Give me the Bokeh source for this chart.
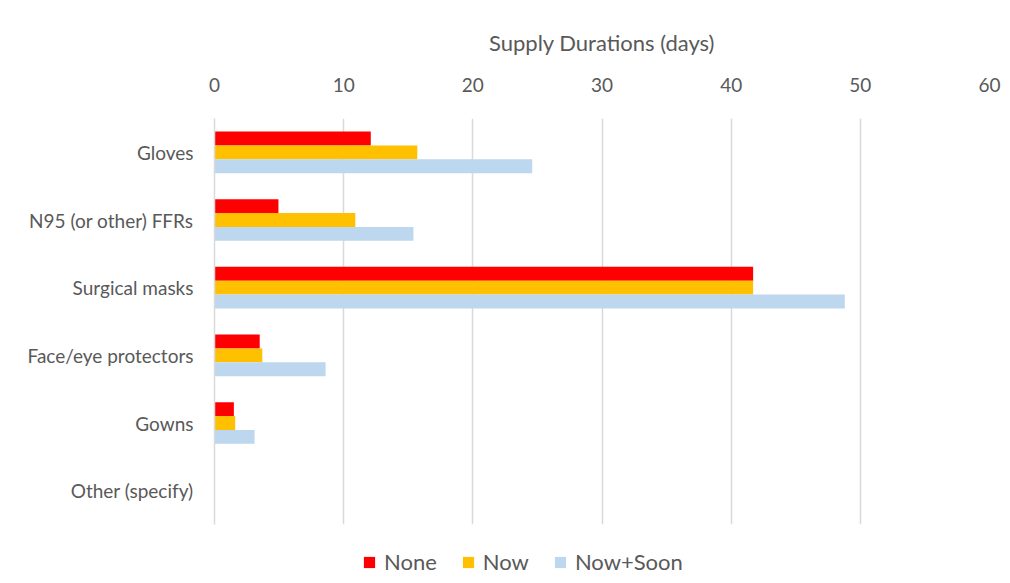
from bokeh.plotting import figure
from bokeh.models import Range1d, FactorRange, Legend, LegendItem, ColumnDataSource, FixedTicker
from bokeh.layouts import column
from bokeh.transform import dodge
from bokeh.embed import file_html
from bokeh.resources import INLINE

categories = ["Gloves", "N95 (or other) FFRs", "Surgical masks", "Face/eye protectors", "Gowns", "Other (specify)"]
none_vals = [12.1, 4.95, 41.7, 3.5, 1.5, 0]
now_vals = [15.7, 10.9, 41.7, 3.7, 1.6, 0]
now_soon_vals = [24.6, 15.4, 48.8, 8.6, 3.1, 0]
series_names = ["None", "Now", "Now+Soon"]
series_colors = ["#FF0000", "#FFC000", "#BDD7EE"]
x_ticks = [0, 10, 20, 30, 40, 50, 60]

FONT = "Lato"
TXT = "#595959"

src = ColumnDataSource(dict(cat=categories, none=none_vals, now=now_vals, soon=now_soon_vals))

p = figure(frame_width=775, frame_height=406, output_backend="svg", toolbar_location=None,
           x_range=Range1d(0, 60), y_range=FactorRange(*categories[::-1]),
           x_axis_location="above", min_border_left=214, min_border_right=19,
           min_border_top=118, min_border_bottom=4)
p.outline_line_color = None

bw = 0.205
cols = ["none", "now", "soon"]
offsets = [bw, 0, -bw]
for c, off, col in zip(cols, offsets, series_colors):
    p.hbar(y=dodge("cat", off, range=p.y_range), right=c, left=0, height=bw, source=src,
           fill_color=col, line_color=None)

xa = p.xaxis[0]
xa.ticker = FixedTicker(ticks=x_ticks)
xa.axis_label = "Supply Durations (days)"
xa.axis_label_text_font = FONT
xa.axis_label_text_font_style = "normal"
xa.axis_label_text_font_size = "22px"
xa.axis_label_text_color = TXT
xa.axis_label_standoff = 19
xa.major_label_text_font = FONT
xa.major_label_text_font_size = "19px"
xa.major_label_text_color = TXT
xa.major_label_standoff = 21
xa.axis_line_color = None
xa.major_tick_line_color = None
xa.minor_tick_line_color = None

ya = p.yaxis[0]
ya.major_label_text_font = FONT
ya.major_label_text_font_size = "19px"
ya.major_label_text_color = TXT
ya.major_label_standoff = 15
ya.axis_line_color = "#D9D9D9"
ya.axis_line_width = 1.5
ya.major_tick_line_color = None
ya.minor_tick_line_color = None

p.xgrid.grid_line_color = "#D9D9D9"
p.xgrid.grid_line_width = 1.5
p.ygrid.grid_line_color = None

# legend strip below the chart (its bars sit outside the strip's visible range)
p2 = figure(frame_width=1008, frame_height=54, output_backend="svg", toolbar_location=None,
            x_range=Range1d(0, 60), y_range=Range1d(0, 1),
            min_border_left=0, min_border_right=0, min_border_top=0, min_border_bottom=0)
p2.axis.visible = False
p2.grid.visible = False
p2.outline_line_color = None
items = []
for name, c, col in zip(series_names, cols, series_colors):
    r = p2.hbar(y=-5, right=c, left=0, height=0.1, source=src, fill_color=col, line_color=None)
    items.append(LegendItem(label=name, renderers=[r]))

legend = Legend(items=items, orientation="horizontal", location=(362, 7),
                label_text_font=FONT, label_text_font_size="22px", label_text_color=TXT,
                glyph_width=14, glyph_height=14, spacing=24, label_standoff=8,
                border_line_color=None, background_fill_alpha=0, margin=0, padding=4)
p2.add_layout(legend, "center")

layout = column(p, p2, spacing=0)
open("out.html", "w").write(file_html(layout, INLINE))
